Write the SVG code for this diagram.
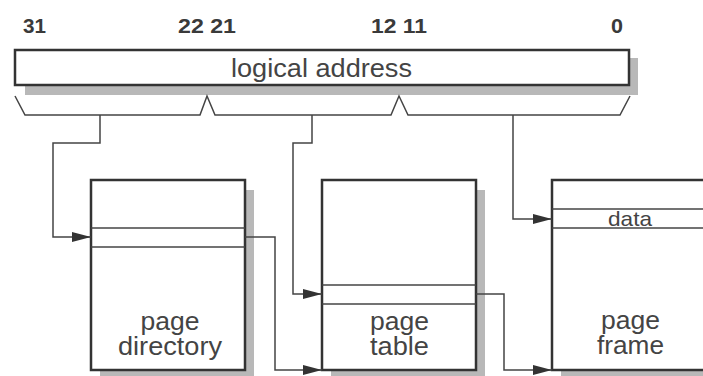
<svg xmlns="http://www.w3.org/2000/svg" width="703" height="376" viewBox="0 0 703 376">
<defs>
<style>
.box{fill:#fff;stroke:#333;stroke-width:2.5}
.shadow{fill:#b8b8b8}
.inner{fill:none;stroke:#444;stroke-width:1.5}
.conn{fill:none;stroke:#444;stroke-width:1.5}
.lbl{font-family:"Liberation Sans",Arial,sans-serif;font-size:25px;fill:#444;text-anchor:middle}
.num{font-family:"Liberation Sans",Arial,sans-serif;font-size:21px;font-weight:bold;fill:#3a3a3a}
</style>
<marker id="arr" markerWidth="19" markerHeight="10" refX="19" refY="5" orient="auto" markerUnits="userSpaceOnUse">
<path d="M0,0 L19,5 L0,10 Z" fill="#333"/>
</marker>
</defs>
<rect width="703" height="376" fill="#fff"/>

<g id="bits">
<text class="num" x="23" y="33" textLength="23" lengthAdjust="spacingAndGlyphs">31</text>
<text class="num" x="178" y="33" textLength="58" lengthAdjust="spacingAndGlyphs">22 21</text>
<text class="num" x="371" y="33" textLength="56" lengthAdjust="spacingAndGlyphs">12 11</text>
<text class="num" x="611" y="33" textLength="12" lengthAdjust="spacingAndGlyphs">0</text>
</g>

<g id="logical-address">
<path class="shadow" d="M25,86 H638 V58 H630 V86 Z M25,86 H638 V95 H25 Z"/>
<rect class="box" x="15" y="50" width="614" height="35"/>
<text class="lbl" x="321.5" y="77" textLength="181" lengthAdjust="spacingAndGlyphs" style="font-size:26px">logical address</text>
</g>

<g id="page-directory">
<rect class="shadow" x="100" y="190" width="154" height="190"/>
<rect class="box" x="91" y="180" width="154" height="190"/>
<line class="inner" x1="91" y1="228" x2="245" y2="228"/>
<line class="inner" x1="91" y1="247" x2="245" y2="247"/>
<text class="lbl" x="170" y="330" textLength="59" lengthAdjust="spacingAndGlyphs">page</text>
<text class="lbl" x="170" y="355" textLength="104" lengthAdjust="spacingAndGlyphs">directory</text>
</g>

<g id="page-table">
<rect class="shadow" x="331" y="190" width="154" height="190"/>
<rect class="box" x="322" y="180" width="154" height="190"/>
<line class="inner" x1="322" y1="285" x2="476" y2="285"/>
<line class="inner" x1="322" y1="304" x2="476" y2="304"/>
<text class="lbl" x="399.5" y="330" textLength="59" lengthAdjust="spacingAndGlyphs">page</text>
<text class="lbl" x="399.5" y="355" textLength="59" lengthAdjust="spacingAndGlyphs">table</text>
</g>

<g id="page-frame">
<rect class="shadow" x="561" y="190" width="160" height="190"/>
<rect class="box" x="552" y="180" width="160" height="190"/>
<line class="inner" x1="552" y1="209" x2="712" y2="209"/>
<line class="inner" x1="552" y1="228" x2="712" y2="228"/>
<text class="lbl" x="630" y="226" textLength="44" lengthAdjust="spacingAndGlyphs" style="font-size:21px">data</text>
<text class="lbl" x="630.5" y="329" textLength="59" lengthAdjust="spacingAndGlyphs">page</text>
<text class="lbl" x="630.5" y="354" textLength="67" lengthAdjust="spacingAndGlyphs">frame</text>
</g>

<g id="connectors">
<path class="conn" d="M15,96 L25,115 H200 L207,96 L215,115 H391 L399,96 L408,115 H620 L630,96"/>
<path class="conn" d="M100,115 V143 H53 V237 H91" marker-end="url(#arr)"/>
<path class="conn" d="M312,115 V143 H293 V294 H322" marker-end="url(#arr)"/>
<path class="conn" d="M513,115 V219 H552" marker-end="url(#arr)"/>
<path class="conn" d="M245,237 H275 V370 H322" marker-end="url(#arr)"/>
<path class="conn" d="M476,294 H504 V370 H552" marker-end="url(#arr)"/>
</g>
</svg>
